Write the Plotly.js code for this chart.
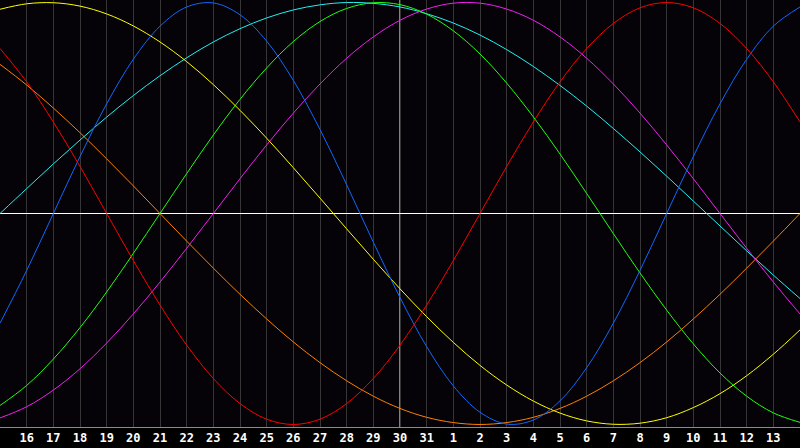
<!DOCTYPE html>
<html>
<head>
<meta charset="utf-8">
<script src="https://cdn.plot.ly/plotly-3.0.1.min.js"></script>
<style>html,body{margin:0;padding:0;background:#000;}#chart{width:800px;height:448px;}</style>
</head>
<body>
<div id="chart"></div>
<script>
// dates of the 31 sampled days (index 0 .. 30)
const dates = [15,16,17,18,19,20,21,22,23,24,25,26,27,28,29,30,31,1,2,3,4,5,6,7,8,9,10,11,12,13,14];
const today = 30;
// labelled days (first and last sampled day are not labelled)
const labelledDates = [16,17,18,19,20,21,22,23,24,25,26,27,28,29,30,31,1,2,3,4,5,6,7,8,9,10,11,12,13];

const yellowVals = [0.968,0.994,0.999,0.983,0.946,0.889,0.813,0.720,0.611,0.489,0.357,0.217,0.073,-0.073,-0.217,-0.357,-0.489,-0.611,-0.720,-0.813,-0.889,-0.946,-0.983,-0.999,-0.994,-0.968,-0.920,-0.854,-0.769,-0.667,-0.552];
const redVals = [0.782,0.624,0.434,0.223,0.000,-0.223,-0.434,-0.624,-0.782,-0.901,-0.975,-1.000,-0.975,-0.901,-0.782,-0.624,-0.434,-0.223,0.000,0.223,0.434,0.624,0.782,0.901,0.975,1.000,0.975,0.901,0.782,0.624,0.434];
const orangeVals = [0.707,0.609,0.500,0.383,0.259,0.131,0.000,-0.131,-0.259,-0.383,-0.500,-0.609,-0.707,-0.793,-0.866,-0.924,-0.966,-0.991,-1.000,-0.991,-0.966,-0.924,-0.866,-0.793,-0.707,-0.609,-0.500,-0.383,-0.259,-0.131,0.000];
const blueVals = [-0.520,-0.270,0.000,0.270,0.520,0.731,0.888,0.979,0.998,0.942,0.817,0.631,0.398,0.136,-0.136,-0.398,-0.631,-0.817,-0.942,-0.998,-0.979,-0.888,-0.731,-0.520,-0.270,0.000,0.270,0.520,0.731,0.888,0.979];
const cyanVals = [0.000,0.118,0.235,0.348,0.457,0.559,0.653,0.738,0.813,0.876,0.927,0.965,0.989,1.000,0.996,0.979,0.947,0.903,0.846,0.777,0.697,0.607,0.509,0.403,0.292,0.177,0.059,-0.059,-0.177,-0.292,-0.403];
const greenVals = [-0.910,-0.815,-0.690,-0.541,-0.372,-0.189,0.000,0.189,0.372,0.541,0.690,0.815,0.910,0.972,0.999,0.990,0.945,0.866,0.756,0.618,0.458,0.282,0.095,-0.095,-0.282,-0.458,-0.618,-0.756,-0.866,-0.945,-0.990];
const magentaVals = [-0.969,-0.916,-0.837,-0.736,-0.614,-0.476,-0.325,-0.165,0.000,0.165,0.325,0.476,0.614,0.736,0.837,0.916,0.969,0.997,0.997,0.969,0.916,0.837,0.736,0.614,0.476,0.325,0.165,0.000,-0.165,-0.325,-0.476];

const idx = dates.map((d, i) => i);
const tickIdx = labelledDates.map(d => dates.indexOf(d));
const todayIdx = dates.indexOf(today);

const series = [
  {name: 'orange', y: orangeVals, color: '#ff8000'},
  {name: 'cyan', y: cyanVals, color: '#20f0f0'},
  {name: 'magenta', y: magentaVals, color: '#f020f0'},
  {name: 'green', y: greenVals, color: '#20ff10'},
  {name: 'yellow', y: yellowVals, color: '#ffff00'},
  {name: 'blue', y: blueVals, color: '#1068ff'},
  {name: 'red', y: redVals, color: '#ff0000'}
];

const traces = series.map(s => ({
  type: 'scatter', mode: 'lines', x: idx, y: s.y, name: s.name,
  line: {color: s.color, width: 1, shape: 'spline', smoothing: 1},
  hoverinfo: 'skip'
}));

const layout = {
  width: 800, height: 448,
  margin: {l: 0, r: 0, t: 0, b: 21, pad: 0},
  paper_bgcolor: '#000000',
  plot_bgcolor: '#050307',
  showlegend: false,
  xaxis: {
    range: [0, dates.length - 1],
    tickvals: tickIdx,
    ticktext: labelledDates.map(String),
    ticks: '', showgrid: true, gridcolor: '#363636', gridwidth: 1,
    zeroline: false, showline: true, linecolor: '#8a8a8a', linewidth: 1, mirror: true,
    tickfont: {family: 'DejaVu Sans Mono', size: 12, color: '#ffffff', weight: 'bold'},
    fixedrange: true
  },
  yaxis: {
    range: [-1.012, 1.012],
    showticklabels: false, ticks: '', showgrid: false,
    zeroline: true, zerolinecolor: '#ffffff', zerolinewidth: 1,
    showline: true, linecolor: '#8a8a8a', linewidth: 1,
    fixedrange: true
  },
  shapes: [{
    type: 'line', xref: 'x', yref: 'paper', x0: todayIdx, x1: todayIdx, y0: 0, y1: 1,
    line: {color: '#ffffff', width: 1}, layer: 'below'
  }]
};

Plotly.newPlot('chart', traces, layout, {displayModeBar: false, staticPlot: true});
</script>
</body>
</html>
